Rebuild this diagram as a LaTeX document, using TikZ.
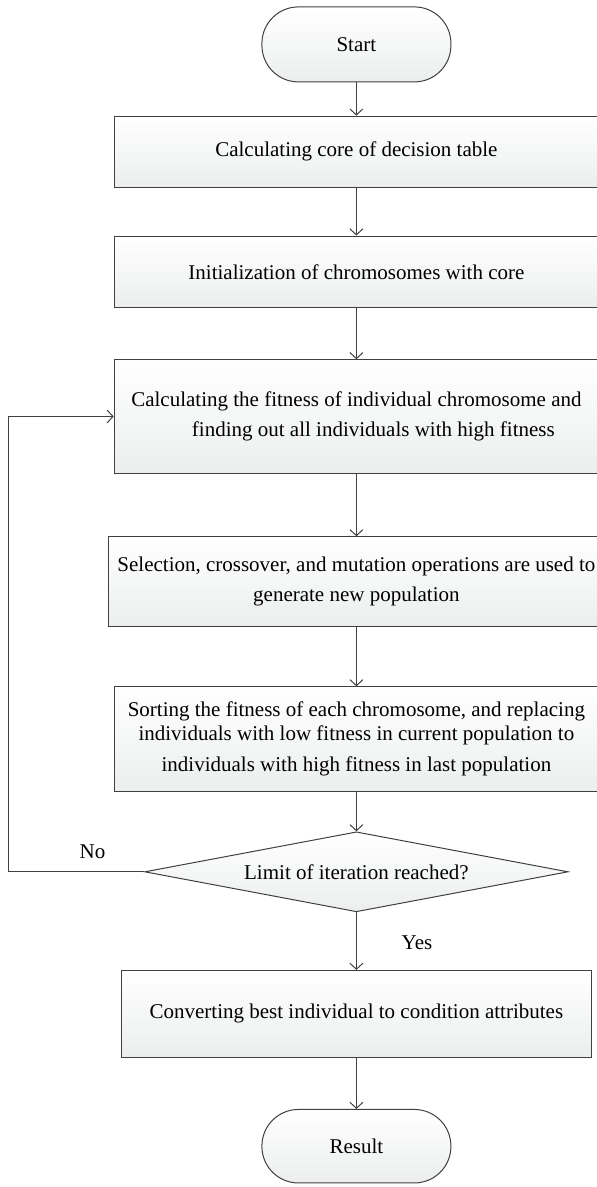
\documentclass[tikz,border=0pt]{standalone}
\usepackage{fontspec}
\setmainfont{Liberation Serif}
\usetikzlibrary{shapes.geometric,arrows.meta}
\definecolor{edge}{HTML}{404040}
\definecolor{boxbot}{HTML}{ECEEEE}
\begin{document}
\begin{tikzpicture}[x=1pt,y=-1pt,
  font=\fontsize{21}{30}\selectfont,
  shade/.style={draw=edge, line width=1pt, top color=white, bottom color=boxbot, text=black},
  box/.style={shade, minimum height=#1, minimum width=484.4pt, align=center, inner sep=0pt},
  term/.style={shade, rounded corners=36.5pt, minimum width=189pt, minimum height=75pt, inner sep=0pt},
  dec/.style={shade, diamond, aspect=5.3, minimum width=423.4pt, minimum height=80pt, inner sep=0pt},
  arr/.style={draw=edge, line width=1pt, -{Straight Barb[length=6pt,width=13pt]}},
  lab/.style={inner sep=0pt}]
\clip (0,0) rectangle (597,1187);
\node[term] (start) at (356.4,44.4) {Start};
\node[box=71.2pt] (b1) at (356.4,151.7) {Calculating core of decision table};
\node[box=71.6pt] (b2) at (356.4,271.8) {Initialization of chromosomes with core};
\node[box=113.5pt] (b3) at (356.4,416.5) {Calculating the fitness of individual chromosome and\\\hspace*{34pt}finding out all individuals with high fitness};
\node[box=89.4pt, minimum width=495.8pt] (b4) at (356.4,581.5) {Selection, crossover, and mutation operations are used to\\generate new population};
\node[box=105pt] (b5) at (356.4,739.3) {Sorting the fitness of each chromosome, and replacing\\[-6pt]individuals with low fitness in current population to\\[1pt]individuals with high fitness in last population};
\node[dec] (d) at (356.4,871.8) {Limit of iteration reached?};
\node[box=86.8pt, minimum width=469.5pt] (b6) at (356.4,1013.8) {Converting best individual to condition attributes};
\node[term, minimum height=73.5pt] (res) at (356.4,1146.2) {Result};
\node[lab] (no) at (92.5,851.6) {No};
\node[lab] (yes) at (417,943) {Yes};
\coordinate (c1) at (8.4,871.8);
\draw[arr] (start) -- (b1);
\draw[arr] (b1) -- (b2);
\draw[arr] (b2) -- (b3);
\draw[arr] (b3) -- (b4);
\draw[arr] (b4) -- (b5);
\draw[arr] (b5) -- (d);
\draw[arr] (d) -- (b6);
\draw[arr] (b6) -- (res);
\draw[arr] (d.west) -- (c1) |- (b3.west);
\end{tikzpicture}
\end{document}
